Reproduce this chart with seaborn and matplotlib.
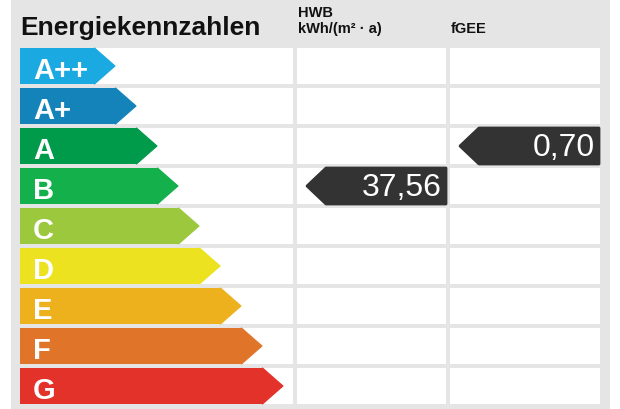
import matplotlib
matplotlib.use("Agg")
import matplotlib.pyplot as plt
import seaborn as sns
import pandas as pd
from matplotlib.patches import Polygon, Rectangle

# ---- data ----
classes = ["A++", "A+", "A", "B", "C", "D", "E", "F", "G"]
class_colors = ["#1aa9e1", "#1383ba", "#009a4b", "#14b04c", "#9bc83c",
                "#ece21f", "#eeb11e", "#e07529", "#e2322a"]
title = "Energiekennzahlen"
col_headers = ["HWB\nkWh/(m² · a)", "fGEE"]
hwb_value = "37,56"
hwb_class = "B"
fgee_value = "0,70"
fgee_class = "A"

sns.set_style("white")
plt.rcParams["font.family"] = ["Liberation Sans", "DejaVu Sans"]

W, H = 620, 410
fig = plt.figure(figsize=(W / 100, H / 100), dpi=100)
fig.patch.set_facecolor("white")
ax = fig.add_axes([0, 0, 1, 1])

# layout helpers (pixel -> data); x data = pixel - 20, y data = row units
X0 = 20
ROW0 = 67.0
PITCH = 40.0
def px(p):
    return p - X0
def py(p):
    return (p - ROW0) / PITCH

BAR_H = 0.9
base_len, step, tip = 75, 21, 20
lengths = [base_len + step * i for i in range(len(classes))]
df = pd.DataFrame({"klasse": classes, "laenge": lengths})

# gray panel
ax.add_patch(Rectangle((px(11), py(0)), 610 - 11, py(410) - py(0),
                       facecolor="#e5e5e5", edgecolor="none", zorder=0))
# white cells
cols = [(20, 293), (297, 446), (450, 600)]
for i in range(len(classes)):
    for (a, b) in cols:
        ax.add_patch(Rectangle((px(a), i - BAR_H / 2), b - a, BAR_H,
                               facecolor="white", edgecolor="none", zorder=0.5))

sns.barplot(data=df, y="klasse", x="laenge", hue="klasse", palette=class_colors,
            orient="h", width=BAR_H, legend=False, linewidth=0, saturation=1,
            ax=ax, zorder=2)

for i, (c, L) in enumerate(zip(class_colors, lengths)):
    ax.add_patch(Polygon([(L - 0.5, i - BAR_H / 2), (L + tip, i), (L - 0.5, i + BAR_H / 2)],
                         closed=True, facecolor=c, edgecolor=c, linewidth=0.8,
                         joinstyle="round", zorder=2))
    ax.text(px(33), i + 0.3, classes[i], color="white",
            fontsize=21, fontweight="bold", ha="left", va="baseline", zorder=3)

# value markers
def marker(row, right, label):
    i = classes.index(row)
    left = right - 120
    pts = [(px(right), i - BAR_H / 2), (px(left), i - BAR_H / 2), (px(left - 19), i),
           (px(left), i + BAR_H / 2), (px(right), i + BAR_H / 2)]
    ax.add_patch(Polygon(pts, closed=True, facecolor="#333333", edgecolor="#333333",
                         linewidth=2, joinstyle="round", zorder=3))
    ax.text(px(right - 4), i + 0.23, label, color="white", fontsize=23,
            ha="right", va="baseline", zorder=4)

marker(hwb_class, 446, hwb_value)
marker(fgee_class, 599, fgee_value)

# titles
ax.text(px(20), py(35.5), title, fontsize=19, fontweight="bold",
        color="#111111", ha="left", va="baseline")
ax.text(px(298), py(17), col_headers[0].split("\n")[0], fontsize=10.5,
        fontweight="bold", color="#111111", ha="left", va="baseline")
ax.text(px(298), py(33), col_headers[0].split("\n")[1], fontsize=10.5,
        fontweight="bold", color="#111111", ha="left", va="baseline")
ax.text(px(451), py(33), col_headers[1], fontsize=10.5,
        fontweight="bold", color="#111111", ha="left", va="baseline")

ax.set_xlim(px(0), px(W))
ax.set_ylim(py(H), py(0))
ax.axis("off")
fig.savefig("out.png", dpi=100, facecolor="white")
